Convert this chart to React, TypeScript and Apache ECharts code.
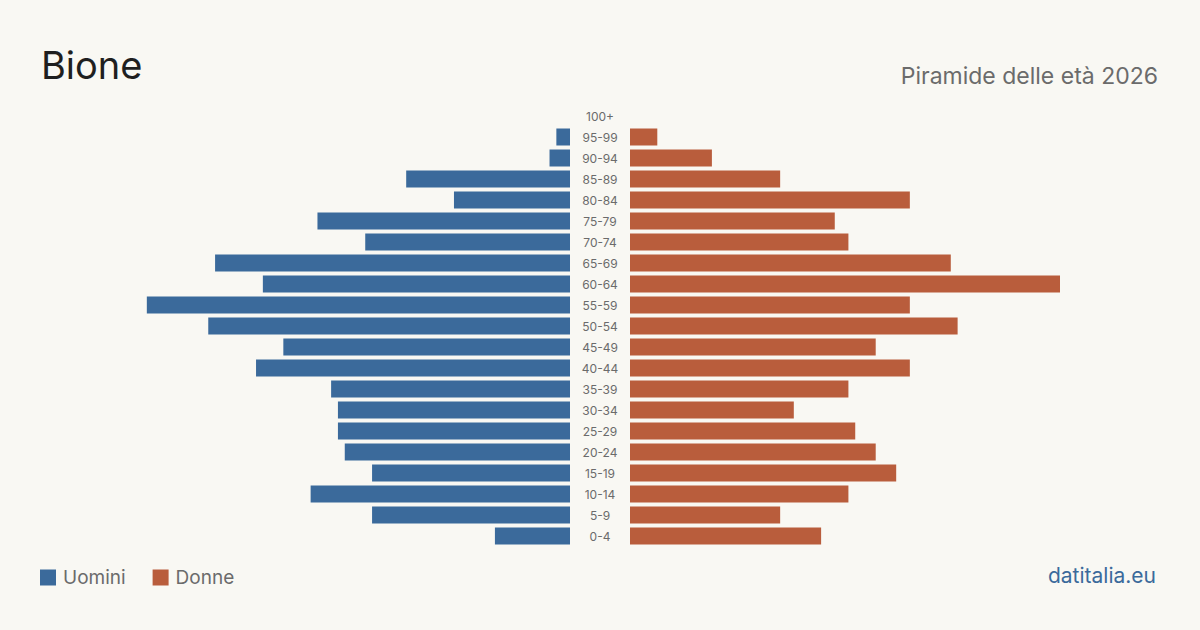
import React, { useEffect, useRef } from "react";
import * as echarts from "echarts";

// Age classes, bottom to top
const ageClasses = [
  "0-4", "5-9", "10-14", "15-19", "20-24", "25-29", "30-34", "35-39", "40-44",
  "45-49", "50-54", "55-59", "60-64", "65-69", "70-74", "75-79", "80-84",
  "85-89", "90-94", "95-99", "100+",
];

// Residents per age class
const uomini = [11, 29, 38, 29, 33, 34, 34, 35, 46, 42, 53, 62, 45, 52, 30, 37, 17, 24, 3, 2, 0];
const donne = [28, 22, 32, 39, 36, 33, 24, 32, 41, 36, 48, 41, 63, 47, 32, 30, 41, 22, 12, 4, 0];

const BLUE = "#3b6a9b";
const ORANGE = "#b95d3c";
const FONT = "Inter, 'Noto Sans', sans-serif";

export default function App() {
  const ref = useRef<HTMLDivElement>(null);

  useEffect(() => {
    if (!ref.current) return;
    const chart = echarts.init(ref.current, null, { renderer: "svg" });
    const maxVal = Math.max(...uomini, ...donne);

    chart.setOption({
      animation: false,
      backgroundColor: "#f9f8f3",
      textStyle: { fontFamily: FONT },
      title: [
        {
          text: "Bione",
          left: 36,
          top: 41,
          textStyle: { fontSize: 38, fontWeight: 400, color: "#1f1f1f", fontFamily: FONT },
        },
        {
          text: "Piramide delle età 2026",
          right: 37,
          top: 59,
          textStyle: { fontSize: 23, fontWeight: 400, color: "#6b6b6b", fontFamily: FONT },
        },
        {
          text: "datitalia.eu",
          right: 39,
          top: 560,
          textStyle: { fontSize: 21, fontWeight: 400, color: BLUE, fontFamily: FONT },
        },
      ],
      legend: {
        left: 35,
        top: 563,
        itemWidth: 16,
        itemHeight: 16,
        itemGap: 27,
        icon: "rect",
        textStyle: { fontSize: 19, color: "#6b6b6b", fontFamily: FONT, padding: [0, 0, 0, 2] },
        data: ["Uomini", "Donne"],
      },
      grid: [
        { left: 140, width: 430, top: 105.5, height: 441 },
        { left: 630, width: 430, top: 105.5, height: 441 },
      ],
      xAxis: [
        { gridIndex: 0, type: "value", inverse: true, min: 0, max: maxVal, show: false },
        { gridIndex: 1, type: "value", min: 0, max: maxVal, show: false },
      ],
      yAxis: [
        {
          gridIndex: 0,
          type: "category",
          data: ageClasses,
          position: "right",
          axisLine: { show: false },
          axisTick: { show: false },
          axisLabel: {
            margin: 30,
            align: "center",
            fontSize: 12,
            color: "#6b6b6b",
            fontFamily: FONT,
          },
        },
        {
          gridIndex: 1,
          type: "category",
          data: ageClasses,
          show: false,
        },
      ],
      series: [
        {
          name: "Uomini",
          type: "bar",
          xAxisIndex: 0,
          yAxisIndex: 0,
          data: uomini,
          barWidth: 17,
          itemStyle: { color: BLUE },
        },
        {
          name: "Donne",
          type: "bar",
          xAxisIndex: 1,
          yAxisIndex: 1,
          data: donne,
          barWidth: 17,
          itemStyle: { color: ORANGE },
        },
      ],
    });

    return () => chart.dispose();
  }, []);

  return (
    <div
      ref={ref}
      style={{ width: 1200, height: 630, position: "absolute", left: 0, top: 0 }}
    />
  );
}
